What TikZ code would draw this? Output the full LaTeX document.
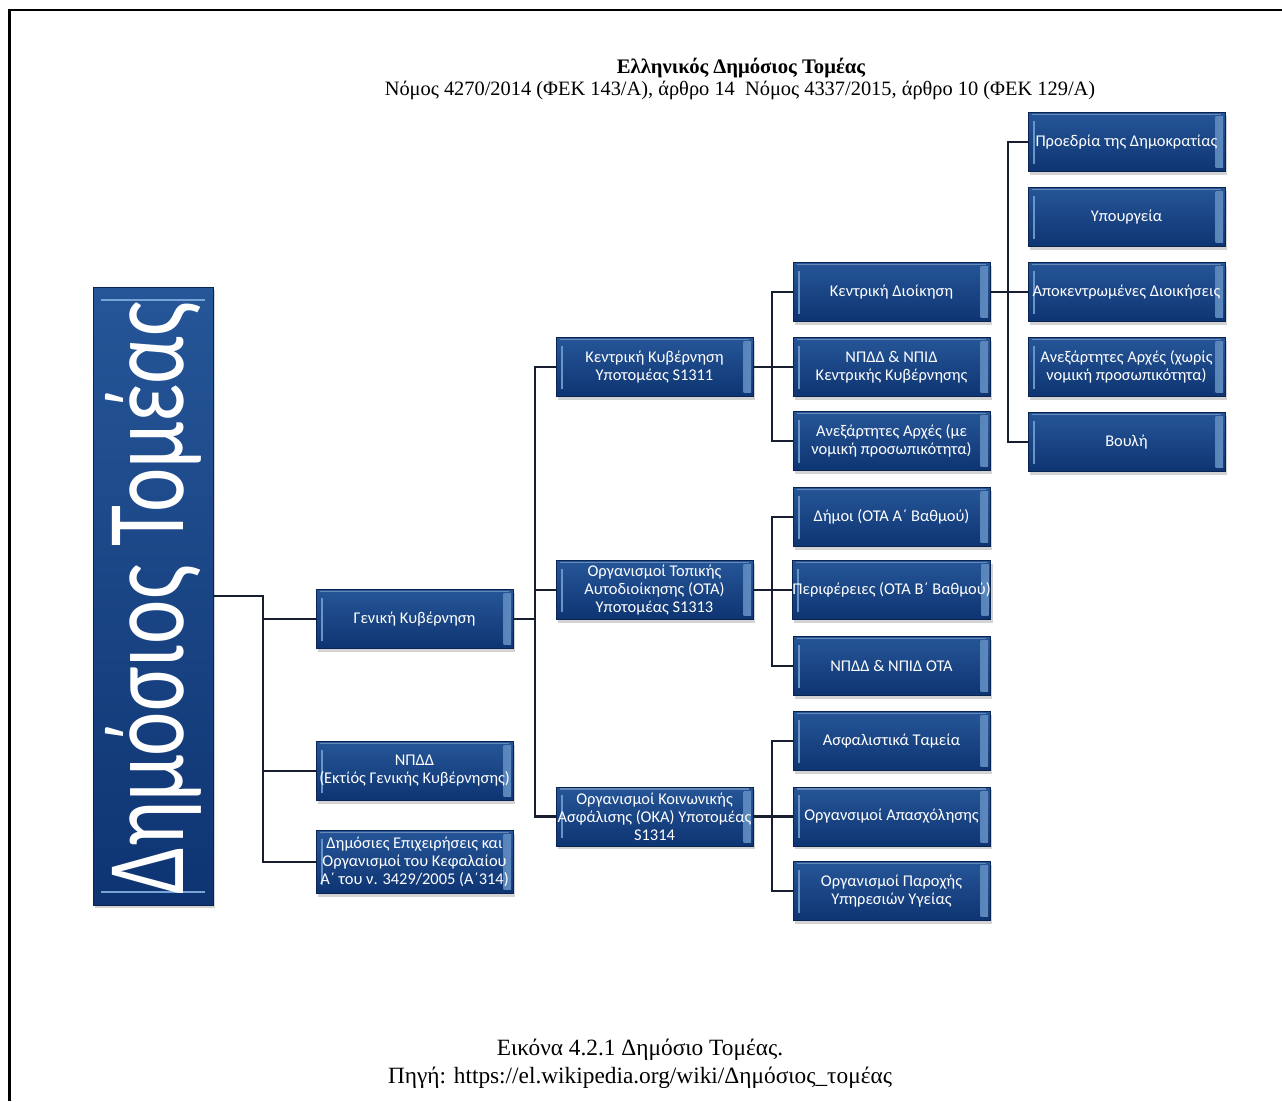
\documentclass[tikz,border=0pt]{standalone}
\usepackage{fontspec}
\setmainfont{Liberation Serif}
\newfontfamily\boxfont{Carlito}
\usetikzlibrary{shadows}

\definecolor{boxtop}{RGB}{38,86,152}
\definecolor{boxbot}{RGB}{14,52,114}
\definecolor{boxedge}{RGB}{10,36,82}
\definecolor{bevel}{RGB}{120,165,215}
\definecolor{connector}{RGB}{22,30,48}

\tikzset{
  orgbox/.style={
    draw=boxedge, line width=0.6pt,
    top color=boxtop, bottom color=boxbot,
    minimum width=147.75pt, minimum height=44.25pt,
    inner sep=0pt, align=center, text=white,
    font=\boxfont\fontsize{12.3}{13.6}\selectfont,
    drop shadow={shadow xshift=1.5pt, shadow yshift=-2.5pt, opacity=0.35},
    path picture={
      \fill[left color=boxbot, right color=bevel!75!boxbot]
        ([xshift=-7pt,yshift=-3pt]path picture bounding box.north east)
        rectangle ([xshift=-1.5pt,yshift=3pt]path picture bounding box.south east);
      \draw[bevel!85!boxbot, line width=1.3pt]
        ([xshift=4.5pt,yshift=-6pt]path picture bounding box.north west)
        -- ([xshift=4.5pt,yshift=6pt]path picture bounding box.south west);
      \draw[boxtop!70!white, line width=0.8pt]
        ([xshift=3pt,yshift=-1.5pt]path picture bounding box.north west)
        -- ([xshift=-3pt,yshift=-1.5pt]path picture bounding box.north east);
    }
  },
  conn/.style={draw=connector, line width=1.7pt}
}

\begin{document}
\begin{tikzpicture}[x=0.75pt, y=-0.75pt]
\useasboundingbox (0,0) rectangle (1282,1101);

% page frame
\draw[line width=2pt, black] (9.5,1101) -- (9.5,10) -- (1282,10);

% headings
\node[font=\bfseries\fontsize{15.5}{17}\selectfont] (title) at (741,68)
  {Ελληνικός Δημόσιος Τομέας};
\node[font=\fontsize{15.3}{17}\selectfont] (laws) at (740,90)
  {Νόμος 4270/2014 (ΦΕΚ 143/Α), άρθρο 14\ \ Νόμος 4337/2015, άρθρο 10 (ΦΕΚ 129/Α)};

% root
\node[orgbox, minimum width=90pt, minimum height=463.5pt,
      path picture={
        \draw[bevel, line width=1.4pt]
          ([xshift=6pt,yshift=-10pt]path picture bounding box.north west)
          -- ([xshift=-6pt,yshift=-10pt]path picture bounding box.north east);
        \draw[bevel, line width=1.4pt]
          ([xshift=6pt,yshift=10pt]path picture bounding box.south west)
          -- ([xshift=-6pt,yshift=10pt]path picture bounding box.south east);
      }] (root) at (153,596) {};
\node[rotate=90, text=white, inner sep=0pt] (roottext) at (153,598)
  {\scalebox{1}[1.32]{\boxfont\fontsize{63}{63}\selectfont Δημόσιος Τομέας}};

% first level
\node[orgbox] (gen) at (414.5,619) {Γενική Κυβέρνηση};
\node[orgbox] (npdd) at (414.5,771) {ΝΠΔΔ\\(Εκτίός Γενικής Κυβέρνησης)};
\node[orgbox, minimum height=47pt] (dep) at (414.5,862)
  {Δημόσιες Επιχειρήσεις και\\Οργανισμοί του Κεφαλαίου\\Α΄ του ν. 3429/2005 (Α΄314)};

% sub-sectors of general government
\node[orgbox] (kk) at (654.5,367) {Κεντρική Κυβέρνηση\\Υποτομέας S1311};
\node[orgbox] (ota) at (654.5,590) {Οργανισμοί Τοπικής\\Αυτοδιοίκησης (ΟΤΑ)\\Υποτομέας S1313};
\node[orgbox] (oka) at (654.5,816.5) {Οργανισμοί Κοινωνικής\\Ασφάλισης (ΟΚΑ) Υποτομέας\\S1314};

% units of each sub-sector
\node[orgbox] (kd) at (891.5,292) {Κεντρική Διοίκηση};
\node[orgbox] (npk) at (891.5,367) {ΝΠΔΔ \& ΝΠΙΔ\\Κεντρικής Κυβέρνησης};
\node[orgbox] (aa) at (891.5,441) {Ανεξάρτητες Αρχές (με\\νομική προσωπικότητα)};
\node[orgbox] (dimoi) at (891.5,517) {Δήμοι (ΟΤΑ Α΄ Βαθμού)};
\node[orgbox] (perif) at (891.5,590) {Περιφέρειες (ΟΤΑ Β΄ Βαθμού)};
\node[orgbox] (npota) at (891.5,666) {ΝΠΔΔ \& ΝΠΙΔ ΟΤΑ};
\node[orgbox] (asf) at (891.5,741) {Ασφαλιστικά Ταμεία};
\node[orgbox] (apasx) at (891.5,816.5) {Οργανσιμοί Απασχόλησης};
\node[orgbox] (paroxi) at (891.5,891) {Οργανισμοί Παροχής\\Υπηρεσιών Υγείας};

% central administration
\node[orgbox] (proedria) at (1126.5,142) {Προεδρία της Δημοκρατίας};
\node[orgbox] (ypourg) at (1126.5,217) {Υπουργεία};
\node[orgbox] (apok) at (1126.5,292) {Αποκεντρωμένες Διοικήσεις};
\node[orgbox] (aa2) at (1126.5,367) {Ανεξάρτητες Αρχές (χωρίς\\νομική προσωπικότητα)};
\node[orgbox] (vouli) at (1126.5,442) {Βουλή};

% junction points of the tree
\coordinate (j1) at (263,596);
\coordinate (j2) at (535,619);
\coordinate (j3) at (772,367);
\coordinate (j4) at (772,590);
\coordinate (j5) at (772,816.5);
\coordinate (j6) at (1008,292);

% connectors
\draw[conn] (root.east) -- (j1) |- (dep.west);
\draw[conn] (j1 |- gen.west) -- (gen.west);
\draw[conn] (j1 |- npdd.west) -- (npdd.west);

\draw[conn] (gen.east) -- (j2);
\draw[conn] (kk.west) -| (j2 |- oka.west) -- (oka.west);
\draw[conn] (j2 |- ota.west) -- (ota.west);

\draw[conn] (kk.east) -- (npk.west);
\draw[conn] (kd.west) -| (j3 |- aa.west) -- (aa.west);

\draw[conn] (ota.east) -- (perif.west);
\draw[conn] (dimoi.west) -| (j4 |- npota.west) -- (npota.west);

\draw[conn] (oka.east) -- (apasx.west);
\draw[conn] (asf.west) -| (j5 |- paroxi.west) -- (paroxi.west);

\draw[conn] (kd.east) -- (apok.west);
\draw[conn] (proedria.west) -| (j6 |- vouli.west) -- (vouli.west);

% caption
\node[font=\fontsize{17.5}{19}\selectfont] (cap1) at (640,1050)
  {Εικόνα 4.2.1 Δημόσιο Τομέας.};
\node[font=\fontsize{17.5}{19}\selectfont] (cap2) at (640,1078)
  {Πηγή: https://el.wikipedia.org/wiki/Δημόσιος\_τομέας};
\end{tikzpicture}
\end{document}
